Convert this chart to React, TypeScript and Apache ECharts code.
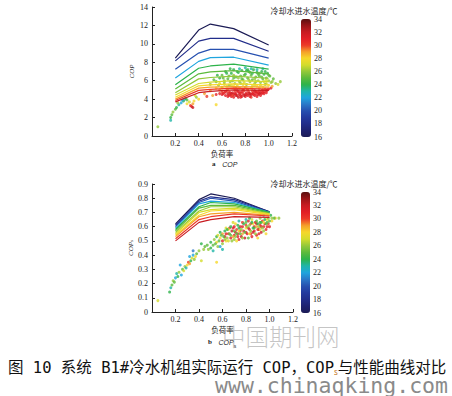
import React, { useEffect, useRef } from 'react';
import * as echarts from 'echarts';

const curveLoads = [0.2, 0.4, 0.5, 0.7, 1.0];
const curveTemps = [16, 18, 20, 22, 24, 25, 26, 27, 28, 29, 30, 32];
const copCurves = [
  [8.45, 11.5, 12.15, 11.65, 9.87],
  [8.15, 10.3, 10.6, 10.6, 9.2],
  [7.25, 9.0, 9.4, 9.4, 8.45],
  [6.3, 8.1, 8.5, 8.55, 7.7],
  [5.55, 7.35, 7.6, 7.8, 7.25],
  [5.1, 6.75, 6.95, 7.1, 6.75],
  [4.7, 6.2, 6.35, 6.5, 6.27],
  [4.45, 5.7, 5.85, 6.0, 5.9],
  [4.2, 5.45, 5.55, 5.65, 5.55],
  [4.0, 5.2, 5.3, 5.35, 5.3],
  [3.85, 4.95, 5.05, 5.2, 5.1],
  [3.7, 4.7, 4.85, 5.0, 4.95],
];
const copsCurves = [
  [0.62, 0.79, 0.83, 0.8, 0.705],
  [0.61, 0.78, 0.81, 0.79, 0.705],
  [0.6, 0.77, 0.8, 0.78, 0.7],
  [0.59, 0.76, 0.78, 0.77, 0.7],
  [0.58, 0.74, 0.77, 0.76, 0.7],
  [0.57, 0.73, 0.75, 0.75, 0.695],
  [0.56, 0.71, 0.74, 0.74, 0.69],
  [0.55, 0.7, 0.72, 0.73, 0.69],
  [0.54, 0.68, 0.71, 0.72, 0.685],
  [0.53, 0.67, 0.69, 0.7, 0.68],
  [0.515, 0.65, 0.67, 0.69, 0.675],
  [0.5, 0.63, 0.65, 0.67, 0.665],
];
// [load, COP, cooling water inlet temperature]
const copPoints = [
  [0.58,4.6,31],[0.6,4.5,31],[0.62,4.7,30],[0.63,4.4,31],[0.65,4.6,32],[0.66,4.8,30],[0.67,4.5,31],[0.68,4.3,31],[0.69,4.7,31],[0.7,4.5,32],
  [0.71,4.9,30],[0.72,4.6,31],[0.73,4.4,31],[0.74,4.8,31],[0.75,4.5,32],[0.76,4.7,30],[0.77,4.3,31],[0.78,4.6,31],[0.79,4.9,30],[0.8,4.5,32],
  [0.81,4.7,31],[0.82,4.4,31],[0.83,4.8,30],[0.84,4.6,31],[0.85,4.5,32],[0.86,4.9,30],[0.87,4.7,31],[0.88,4.4,31],[0.89,4.6,31],[0.9,4.8,30],
  [0.91,4.5,31],[0.92,4.9,31],[0.93,4.7,32],[0.94,4.6,31],[0.95,5.0,30],[0.96,4.8,31],[0.97,5.1,30],[0.98,4.9,31],[0.99,5.0,32],[1.0,5.1,31],
  [0.64,4.9,30],[0.7,4.2,31],[0.74,4.2,32],[0.8,4.3,31],[0.85,4.2,30],[0.88,4.9,32],[0.9,4.3,31],[0.78,5.0,30],[0.82,5.0,31],[0.72,4.4,32],
  [0.6,4.8,30],[0.95,4.7,31],[1.02,5.2,31],[0.55,4.5,31],[0.66,4.4,31],[0.76,4.4,31],[0.86,4.6,31],[0.92,4.6,32],[0.68,4.6,32],[0.84,4.3,31],
  [0.61,4.6,31],[0.63,4.8,31],[0.67,4.7,31],[0.71,4.6,31],[0.73,4.9,31],[0.75,4.7,31],[0.77,4.8,31],[0.79,4.4,32],[0.81,4.5,31],[0.83,4.6,32],
  [0.87,4.5,31],[0.89,4.8,31],[0.91,4.7,31],[0.93,4.4,31],[0.94,4.9,31],[0.96,4.6,31],[0.98,4.7,31],[0.69,4.4,30],[0.65,4.3,31],[0.76,4.2,31],
  [0.55,5.2,28],[0.6,5.3,28],[0.65,5.1,29],[0.7,5.4,28],[0.75,5.2,28],[0.8,5.3,29],[0.85,5.2,28],[0.9,5.4,28],[0.95,5.3,28],[1.0,5.5,28],
  [1.03,5.4,29],[0.68,5.5,27],[0.78,5.6,27],[0.88,5.5,27],[0.98,5.7,27],[0.62,5.6,27],[0.72,5.2,29],[0.82,5.1,29],[0.92,5.2,29],[0.58,5.0,29],
  [0.5,4.9,29],[0.45,4.6,29],
  [0.5,5.6,26],[0.55,5.9,25],[0.58,6.3,24],[0.6,6.6,25],[0.62,5.8,26],[0.63,7.0,24],[0.65,6.2,25],[0.66,5.5,26],[0.68,6.8,24],[0.69,6.0,25],
  [0.7,7.2,24],[0.71,5.7,26],[0.72,6.4,25],[0.74,6.9,24],[0.75,5.9,26],[0.76,6.5,25],[0.77,7.1,24],[0.78,6.1,25],[0.8,6.7,24],[0.81,5.6,26],
  [0.82,6.3,25],[0.83,7.0,24],[0.84,5.9,26],[0.85,6.6,25],[0.86,6.1,25],[0.87,7.2,24],[0.88,5.7,26],[0.89,6.4,25],[0.9,6.9,24],[0.91,6.0,26],
  [0.92,6.5,25],[0.93,5.8,26],[0.94,7.0,24],[0.95,6.2,25],[0.96,6.7,24],[0.97,5.6,26],[0.98,6.3,25],[0.99,6.8,24],[1.0,6.0,26],[1.01,6.5,25],
  [1.02,5.8,26],[1.04,6.2,25],[1.06,5.7,26],[1.08,5.6,27],[1.1,5.9,26],[0.64,5.4,27],[0.73,5.5,27],[0.79,5.8,27],[0.86,5.4,27],[0.93,5.5,27],
  [0.57,5.5,26],[0.53,6.1,25],[0.67,7.3,24],[0.8,7.4,23],[0.9,7.2,23],[0.6,5.2,27],[0.74,6.3,26],[0.84,6.9,25],[0.98,6.1,27],[0.7,6.6,26],
  [0.96,5.9,27],[0.62,6.0,26],[0.88,6.2,26],[0.76,5.7,26],[0.92,6.8,25],[0.66,6.5,25],[0.82,7.2,24],[0.58,5.7,27],
  [0.61,6.3,25],[0.64,6.8,24],[0.67,5.9,26],[0.7,6.3,25],[0.73,7.0,24],[0.77,6.2,25],[0.79,6.6,25],[0.81,7.1,24],[0.83,6.1,26],[0.86,6.8,24],
  [0.89,5.9,26],[0.91,6.7,25],[0.94,6.4,25],[0.97,7.0,24],[1.0,6.6,25],[1.03,5.9,26],[0.75,7.3,23],[0.85,7.3,23],[0.95,7.3,23],[0.56,6.6,24],
  [0.05,1.0,26],[0.16,1.7,23],[0.16,2.0,24],[0.17,2.3,25],[0.18,2.6,26],[0.2,2.9,25],[0.21,3.1,24],[0.23,3.4,23],[0.25,3.6,22],[0.27,3.8,24],
  [0.28,4.0,23],[0.3,3.9,25],[0.3,3.5,28],[0.32,3.7,27],[0.33,3.3,30],[0.34,3.2,31],[0.35,3.5,29],[0.36,3.8,28],[0.38,4.2,26],[0.4,4.0,28],
  [0.26,3.9,22],[0.29,4.1,24],[0.22,3.6,26],[0.55,3.4,28],[0.47,4.3,30],[0.52,4.4,29],[0.35,3.1,32],[0.37,4.4,27],
];
// [load, COPs, cooling water inlet temperature]
const copsPoints = [
  [0.62,0.53,31],[0.65,0.55,30],[0.67,0.52,31],[0.68,0.57,32],[0.7,0.54,31],[0.72,0.58,30],[0.73,0.55,31],[0.75,0.6,31],[0.76,0.53,32],[0.78,0.57,31],
  [0.8,0.61,30],[0.81,0.55,31],[0.83,0.58,31],[0.84,0.62,30],[0.86,0.56,32],[0.87,0.6,31],[0.89,0.54,31],[0.9,0.58,30],[0.92,0.61,31],[0.93,0.56,32],
  [0.95,0.6,31],[0.97,0.58,31],[0.99,0.62,30],[0.7,0.6,31],[0.74,0.51,31],[0.79,0.52,32],[0.85,0.53,31],[0.88,0.63,31],[0.91,0.55,31],[0.66,0.59,30],
  [0.77,0.63,30],[0.82,0.64,31],[0.6,0.5,31],[0.94,0.64,30],[1.0,0.6,31],
  [0.63,0.55,31],[0.69,0.59,31],[0.71,0.56,32],[0.73,0.53,31],[0.77,0.6,31],[0.8,0.56,31],[0.82,0.59,32],[0.84,0.55,31],[0.87,0.57,31],[0.89,0.62,31],
  [0.91,0.58,32],[0.93,0.6,31],[0.96,0.62,31],[0.98,0.6,31],[0.75,0.57,31],
  [0.55,0.49,28],[0.58,0.52,28],[0.6,0.55,29],[0.63,0.5,28],[0.65,0.58,28],[0.69,0.53,29],[0.71,0.62,28],[0.74,0.57,28],[0.77,0.55,29],[0.8,0.59,28],
  [0.83,0.55,28],[0.86,0.62,28],[0.89,0.6,29],[0.92,0.58,28],[0.95,0.63,28],[0.98,0.65,28],[1.02,0.64,28],[1.05,0.66,28],[0.85,0.65,27],[0.72,0.5,28],
  [0.55,0.35,28],[0.9,0.52,28],[0.97,0.55,28],
  [0.45,0.46,25],[0.48,0.44,26],[0.5,0.49,24],[0.52,0.47,25],[0.53,0.51,26],[0.55,0.53,24],[0.56,0.46,26],[0.57,0.5,25],[0.58,0.56,24],[0.6,0.48,26],
  [0.61,0.53,25],[0.62,0.57,24],[0.64,0.52,26],[0.66,0.55,25],[0.67,0.6,24],[0.68,0.5,26],[0.7,0.57,25],[0.71,0.53,26],[0.73,0.61,24],[0.75,0.55,25],
  [0.76,0.58,26],[0.78,0.62,24],[0.79,0.56,25],[0.81,0.6,26],[0.82,0.52,25],[0.84,0.57,26],[0.85,0.63,24],[0.87,0.59,25],[0.88,0.55,26],[0.9,0.62,24],
  [0.91,0.6,26],[0.93,0.63,25],[0.94,0.59,26],[0.96,0.65,24],[0.97,0.62,25],[0.99,0.66,26],[1.0,0.64,25],[1.01,0.68,24],[1.04,0.66,25],[1.08,0.66,26],
  [0.52,0.43,23],[0.58,0.46,22],[0.63,0.59,27],[0.69,0.63,27],[0.8,0.65,23],[0.83,0.66,24],[0.74,0.64,23],[0.42,0.48,24],[0.6,0.44,23],[0.95,0.68,23],
  [0.65,0.5,27],[0.92,0.66,26],[0.56,0.54,27],
  [0.59,0.54,25],[0.62,0.51,26],[0.64,0.58,24],[0.67,0.54,25],[0.7,0.51,26],[0.72,0.55,25],[0.74,0.59,24],[0.77,0.52,26],[0.8,0.63,25],[0.83,0.61,26],
  [0.86,0.59,24],[0.89,0.64,25],[0.92,0.63,24],[0.95,0.57,26],[0.98,0.63,25],[1.02,0.66,26],[0.54,0.48,25],[0.5,0.45,24],[0.47,0.47,25],[0.44,0.44,26],
  [0.05,0.08,27],[0.15,0.14,24],[0.16,0.17,23],[0.17,0.19,25],[0.18,0.22,26],[0.2,0.24,22],[0.21,0.27,23],[0.22,0.25,24],[0.23,0.28,26],[0.25,0.26,22],
  [0.26,0.3,25],[0.27,0.29,27],[0.28,0.32,26],[0.29,0.31,23],[0.3,0.33,28],[0.31,0.35,30],[0.32,0.34,29],[0.33,0.36,24],[0.34,0.38,27],[0.35,0.4,22],
  [0.36,0.37,26],[0.37,0.39,28],[0.38,0.41,25],[0.4,0.43,26],[0.35,0.43,21],[0.32,0.39,22],[0.42,0.36,27],[0.24,0.33,22],[0.19,0.21,25],
];
const tempMin = 16;
const tempMax = 34;

const jetColors = [
  '#1b1b55', '#1e2270', '#212d8a', '#233a9e', '#2650b0', '#2a78c8', '#1fa5de', '#1fb5a8', '#2db34a', '#5cba3c',
  '#93c83a', '#d4dc2c', '#f6d82a', '#f5a02a', '#ec3a28', '#e21f26', '#c81c22', '#9a1618', '#5a1010',
];

const serif = '"Liberation Serif", "DejaVu Serif", serif';
const cjk = '"Noto Sans CJK SC", sans-serif';

function tempColor(t: number) {
  return echarts.color.lerp((t - tempMin) / (tempMax - tempMin), jetColors) as string;
}

function mainAxes(gridIndex: number, yMax: number, yInterval: number, yName: string) {
  const axisLine = { show: true, lineStyle: { color: '#222', width: 1 } };
  const axisTick = { show: true, inside: true, length: 3, lineStyle: { color: '#222' } };
  const axisLabel = { fontSize: 8, fontFamily: serif, color: '#222' };
  return {
    x: {
      type: 'value', gridIndex, min: 0, max: 1.2, interval: 0.2,
      axisLine, axisTick, splitLine: { show: false },
      axisLabel: { ...axisLabel, margin: 3, formatter: (v: number) => (v === 0 ? '' : v.toFixed(1)) },
      name: '负荷率', nameLocation: 'middle', nameGap: 14,
      nameTextStyle: { fontSize: 7.5, fontFamily: cjk, color: '#222' },
    },
    y: {
      type: 'value', gridIndex, min: 0, max: yMax, interval: yInterval,
      axisLine, axisTick, splitLine: { show: false },
      axisLabel: { ...axisLabel, margin: 4, formatter: (v: number) => (yInterval < 1 ? (v === 0 ? '0' : v.toFixed(1)) : String(v)) },
      name: yName, nameLocation: 'middle', nameGap: 17, nameRotate: 90,
      nameTextStyle: {
        fontSize: 7, fontFamily: serif, fontStyle: 'italic', color: '#222',
        rich: { s: { fontSize: 5, fontFamily: serif, fontStyle: 'italic', color: '#222', verticalAlign: 'bottom' } },
      },
    },
  };
}

export default function App() {
  const ref = useRef<HTMLDivElement>(null);
  useEffect(() => {
    if (!ref.current) return;
    const chart = echarts.init(ref.current, null, { renderer: 'svg' });
    const top = mainAxes(0, 14, 2, 'COP');
    const bot = mainAxes(1, 0.9, 0.1, 'COP{s|s}');
    const barAxis = (gridIndex: number) => ({
      type: 'value', gridIndex, min: tempMin, max: tempMax, interval: 2, position: 'right',
      axisLine: { show: false }, axisTick: { show: false }, splitLine: { show: false },
      axisLabel: { fontSize: 8, fontFamily: serif, color: '#222', margin: 3 },
    });
    const hiddenX = (gridIndex: number) => ({ type: 'value', gridIndex, min: 0, max: 1, show: false });

    const series: any[] = [];
    curveTemps.forEach((t, i) => {
      series.push({
        type: 'line', xAxisIndex: 0, yAxisIndex: 0, showSymbol: false, z: 3,
        lineStyle: { color: tempColor(t), width: 1.2 },
        data: curveLoads.map((x, j) => [x, copCurves[i][j]]),
      });
    });
    series.push({
      type: 'scatter', xAxisIndex: 0, yAxisIndex: 0, symbolSize: 3, z: 2,
      data: copPoints,
    });
    const topScatterIndex = series.length - 1;
    curveTemps.forEach((t, i) => {
      series.push({
        type: 'line', xAxisIndex: 1, yAxisIndex: 1, showSymbol: false, z: 3,
        lineStyle: { color: tempColor(t), width: 1.2 },
        data: curveLoads.map((x, j) => [x, copsCurves[i][j]]),
      });
    });
    series.push({
      type: 'scatter', xAxisIndex: 1, yAxisIndex: 1, symbolSize: 3, z: 2,
      data: copsPoints,
    });
    const botScatterIndex = series.length - 1;

    const option: any = {
      animation: false,
      backgroundColor: '#ffffff',
      grid: [
        { left: 152, top: 7, width: 140, height: 129 },
        { left: 152, top: 184, width: 141, height: 128 },
        { left: 301, top: 19, width: 10, height: 118 },
        { left: 301, top: 192, width: 9, height: 121 },
      ],
      xAxis: [top.x, bot.x, hiddenX(2), hiddenX(3)],
      yAxis: [top.y, bot.y, barAxis(2), barAxis(3)],
      visualMap: [
        {
          type: 'continuous', seriesIndex: topScatterIndex, dimension: 2, min: tempMin, max: tempMax,
          calculable: false, realtime: false, left: 301, top: 19, itemWidth: 10, itemHeight: 118,
          padding: 0, text: null, showLabel: false, inRange: { color: jetColors },
        },
        {
          type: 'continuous', seriesIndex: botScatterIndex, dimension: 2, min: tempMin, max: tempMax,
          calculable: false, realtime: false, left: 301, top: 192, itemWidth: 9, itemHeight: 121,
          padding: 0, text: null, showLabel: false, inRange: { color: jetColors },
        },
      ],
      series,
      graphic: [
        { type: 'text', x: 304, y: 6, style: { text: '冷却水进水温度/℃', fontSize: 8, fontFamily: cjk, fill: '#222', textAlign: 'center' } },
        { type: 'text', x: 304, y: 179, style: { text: '冷却水进水温度/℃', fontSize: 8, fontFamily: cjk, fill: '#222', textAlign: 'center' } },
        {
          type: 'text', x: 212, y: 158,
          style: { text: '{b|a}  {i|COP}', rich: { b: { fontSize: 7, fontWeight: 'bold', fontFamily: serif, fill: '#222' }, i: { fontSize: 7, fontStyle: 'italic', fontFamily: 'Liberation Sans, sans-serif', fill: '#222' } } },
        },
        {
          type: 'text', x: 208, y: 336,
          style: { text: '{b|b}  {i|COP}{s|s}', rich: { b: { fontSize: 7, fontWeight: 'bold', fontFamily: serif, fill: '#222' }, i: { fontSize: 7, fontStyle: 'italic', fontFamily: 'Liberation Sans, sans-serif', fill: '#222' }, s: { fontSize: 5, fill: '#222', verticalAlign: 'bottom' } } },
        },
        { type: 'text', x: 222, y: 324, z: 10, style: { text: '中国期刊网', fontSize: 23.5, fontWeight: 300, fontFamily: cjk, fill: 'rgba(140,140,140,0.5)' } },
        {
          type: 'text', x: 8, y: 360,
          style: {
            text: '图 10 系统 B1#冷水机组实际运行 COP，COP{s|s}与性能曲线对比',
            fontSize: 15.5, fontFamily: '"DejaVu Sans Mono", "Noto Sans CJK SC", monospace', fill: '#111',
            rich: { s: { fontSize: 8, fontFamily: cjk, fill: '#c07020', verticalAlign: 'bottom' } },
          },
        },
        { type: 'text', x: 215, y: 374, style: { text: 'www.chinaqking.com', fontSize: 21.5, lineHeight: 22, fontFamily: '"DejaVu Sans Mono", monospace', fill: '#8a8a8a' } },
      ],
    };
    chart.setOption(option);
    return () => chart.dispose();
  }, []);
  return <div ref={ref} style={{ position: 'fixed', left: 0, top: 0, width: 452, height: 396, background: '#fff' }} />;
}
